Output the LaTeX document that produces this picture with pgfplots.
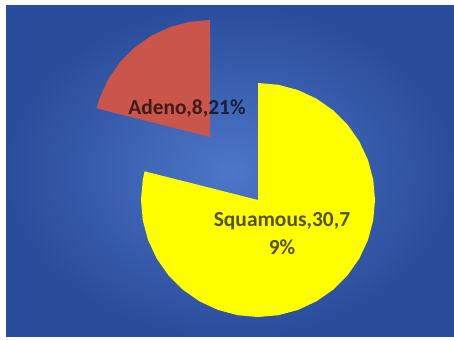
\documentclass[border=0pt]{standalone}
\usepackage{pgfplots}
\pgfplotsset{compat=1.18}
\usepackage{fontspec}
\setmainfont{Carlito}
\definecolor{bgin}{HTML}{4D76C8}
\definecolor{bgout}{HTML}{2A4C9C}
\definecolor{adeno}{HTML}{C9554B}
\definecolor{squam}{HTML}{FFFF00}
\begin{document}
\begin{tikzpicture}
\begin{axis}[
  scale only axis,
  width=448bp, height=331bp,
  xmin=-252, xmax=196,
  ymin=-137, ymax=194,
  axis line style={draw=none},
  ticks=none,
  axis background/.style={inner color=bgin, outer color=bgout},
  clip=false,
]
% Squamous: 30 (79%), from 90 deg clockwise to 165.8 deg
\addplot[draw=none, fill=squam] coordinates {
 (0,0) (0,117) (20.31,115.22) (40.01,109.94) (58.5,101.32) (75.21,89.62)
 (89.62,75.21) (101.32,58.5) (109.94,40.01) (115.22,20.31) (117,0)
 (115.22,-20.31) (109.94,-40.01) (101.32,-58.5) (89.62,-75.21) (75.21,-89.62)
 (58.5,-101.32) (40.01,-109.94) (20.31,-115.22) (0,-117)
 (-20.31,-115.22) (-40.01,-109.94) (-58.5,-101.32) (-75.21,-89.62) (-89.62,-75.21)
 (-101.32,-58.5) (-109.94,-40.01) (-115.22,-20.31) (-117,0)
 (-115.22,20.31) (-113.42,28.70) (0,0)
} -- cycle;
% Adeno: 8 (21%), exploded
\addplot[draw=none, fill=adeno] coordinates {
 (-48,63) (-48,180) (-68.31,178.22) (-88.01,172.94) (-106.5,164.32)
 (-123.21,152.62) (-137.62,138.21) (-149.32,121.5) (-157.94,103.01)
 (-161.42,91.70) (-48,63)
} -- cycle;
\node[text=black, text opacity=0.68, font=\bfseries\fontsize{21.5}{28}\selectfont]
  at (axis cs:-71,92) {Adeno,8,21\%};
\node[text=black, text opacity=0.68, align=center, font=\bfseries\fontsize{21.5}{28}\selectfont]
  at (axis cs:24,-34) {Squamous,30,7\\9\%};
\end{axis}
\path ([xshift=-6bp,yshift=-3bp]current axis.south west) rectangle ([yshift=6bp]current axis.north east);
\end{tikzpicture}
\end{document}
